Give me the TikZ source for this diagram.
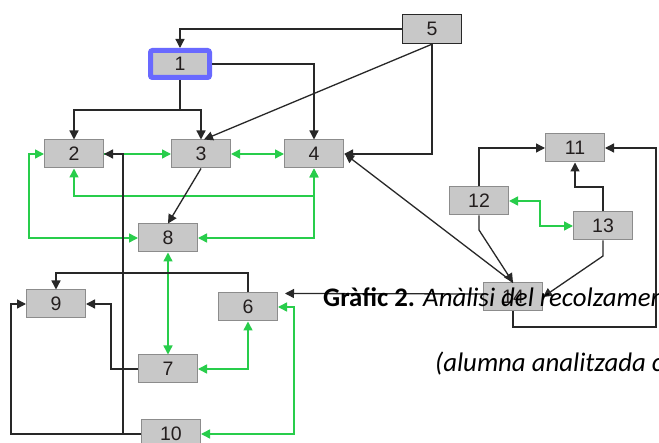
\documentclass[tikz,border=0pt]{standalone}
\usepackage{fontspec}
\setmainfont{Liberation Sans}
\newfontfamily\capfont{Carlito}
\usetikzlibrary{arrows.meta,calc}
\definecolor{boxfill}{RGB}{200,200,200}
\definecolor{boxline}{RGB}{140,140,140}
\definecolor{edgeblk}{RGB}{40,40,40}
\definecolor{edgegrn}{RGB}{40,205,75}
\definecolor{selblue}{RGB}{105,105,255}
\definecolor{numtxt}{RGB}{35,30,30}
\tikzset{
  nbox/.style={rectangle, fill=boxfill, draw=boxline, line width=1pt,
    minimum width=59pt, minimum height=28pt, inner sep=0pt,
    font=\fontsize{19.5}{19.5}\selectfont, text=numtxt},
  darkbox/.style={nbox, draw=edgeblk, line width=1.4pt, minimum height=29pt},
  selbox/.style={nbox, draw=selblue, line width=5pt, rounded corners=2pt,
    minimum width=59pt, minimum height=27pt},
  blk/.style={draw=edgeblk, line width=1.3pt, -{Triangle[length=9pt,width=9pt]}},
  grn/.style={draw=edgegrn, line width=1.5pt, -{Triangle[length=9pt,width=9pt]}},
  grnb/.style={draw=edgegrn, line width=1.5pt, {Triangle[length=9pt,width=9pt]}-{Triangle[length=9pt,width=9pt]}},
  captxt/.style={anchor=base west, inner sep=0pt, font=\capfont\fontsize{26.8}{26.8}\selectfont, text=black}
}
\begin{document}
\begin{tikzpicture}[x=1pt,y=-1pt]
\useasboundingbox (0,0) rectangle (659,443);
\clip (0,0) rectangle (659,443);
\fill[white] (0,0) rectangle (659,443);
% nodes
\node[selbox] (n1) at (180,64) {1};
\node[darkbox] (n5) at (432,29) {5};
\node[nbox] (n2) at (74,154) {2};
\node[nbox] (n3) at (201,154) {3};
\node[nbox] (n4) at (314,154) {4};
\node[nbox] (n8) at (168,238) {8};
\node[nbox] (n9) at (56,304) {9};
\node[nbox] (n6) at (248,307) {6};
\node[nbox] (n7) at (168,369) {7};
\node[nbox] (n10) at (171,434) {10};
\node[nbox] (n11) at (575,148) {11};
\node[nbox] (n12) at (479,201) {12};
\node[nbox] (n13) at (603,226) {13};
\node[nbox] (n14) at (513,297) {14};
% green edges
\draw[grn] (n2.east) -- (n3.west);
\draw[grnb] (n3.east) -- (n4.west);
\draw[grnb] (n4.south) -- (314,196) -| (n2.south);
\draw[grnb] (n2.west) -- (29,154) |- (n8.west);
\draw[grnb] (n4.south) |- (n8.east);
\draw[grnb] (n8.south) -- (n7.north);
\draw[grnb] (n7.east) -| (n6.south);
\draw[grnb] (n10.east) -- (294,434) |- (n6.east);
\draw[grnb] (n12.east) -- (540,201) |- (n13.west);
% black edges
\draw[blk] (n5.west) -| (n1.north);
\draw[blk] (n1.east) -| (n4.north);
\draw[blk] (n1.south) -- (180,110) -| (n2.north);
\draw[blk] (180,110) -| (n3.north);
\draw[blk] (n5.south) -- ([xshift=3pt]n3.north);
\draw[blk] (n5.south) |- (n4.east);
\draw[blk] (n14.north) -- ([xshift=1pt]n4.east);
\draw[blk] (n3.south) -- (n8.north);
\draw[blk] (n12.south) -- (479,230) -- (n14.north);
\draw[blk] (n13.south) -- (603,256) -- (n14.east);
\draw[blk] (n14.south) -- (513,327) -- (656,327) |- (n11.east);
\draw[blk] (n12.north) |- (n11.west);
\draw[blk] (n13.north) -- (603,187) -| (n11.south);
\draw[blk] ([yshift=3pt]n14.west) -- ([xshift=7pt,yshift=-1pt]n6.north east);
\draw[blk] (n6.north) -- (248,273) -| (n9.north);
\draw[blk] (n7.west) -- (111,369) |- (n9.east);
\draw[blk] (n10.west) -- (11,434) |- (n9.west);
\draw[blk] (n10.west) -- (123,434) |- (n2.east);
% caption
\node[captxt] (cap1) at (323,307) {\textbf{Gràfic 2.} \textit{Anàlisi del recolzamen}};
\node[captxt] (cap2) at (435,372) {\textit{(alumna analitzada c}};
\end{tikzpicture}
\end{document}
